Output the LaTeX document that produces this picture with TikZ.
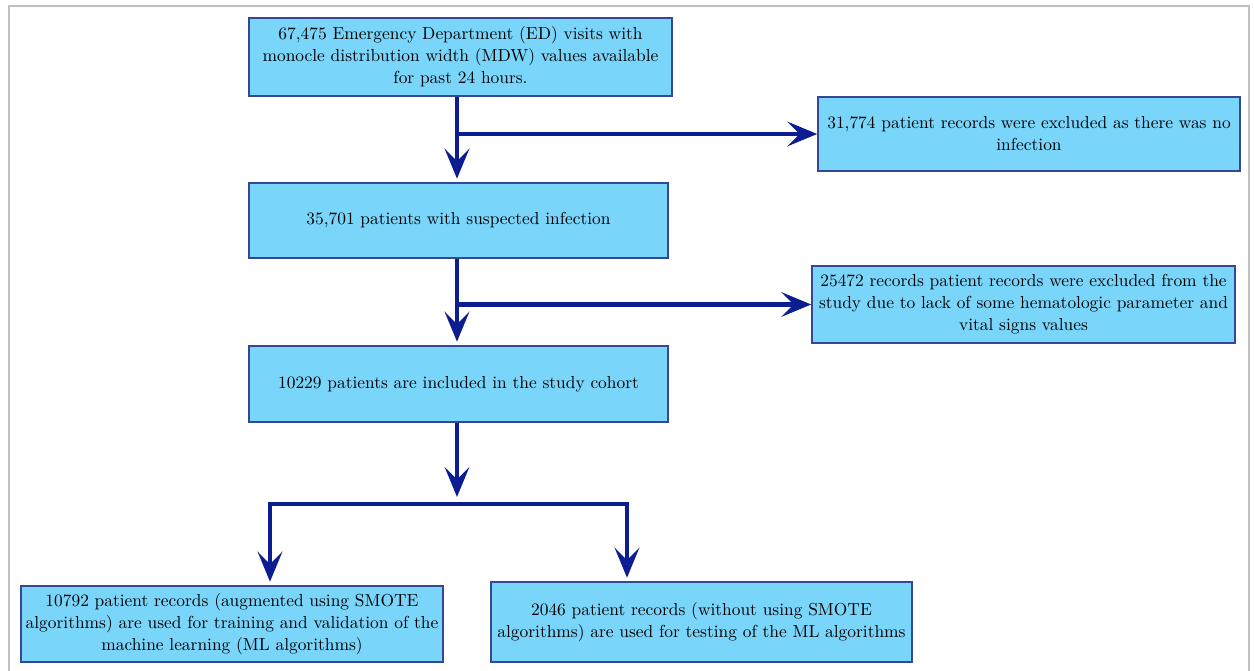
\documentclass[tikz,border=0pt]{standalone}
\usepackage{tikz}
\usetikzlibrary{arrows.meta}
\definecolor{boxfill}{RGB}{122,213,250}
\definecolor{boxline}{RGB}{52,72,150}
\definecolor{flowblue}{RGB}{12,28,145}
\definecolor{framegray}{RGB}{192,192,192}
\tikzset{
  box/.style={draw=boxline, fill=boxfill, line width=0.9pt, align=center, inner sep=2pt,
    font=\fontsize{9.9pt}{12.5pt}\selectfont},
  flow/.style={draw=flowblue, line width=2.8pt, line join=miter},
  tip/.tip={Stealth[length=17pt, width=14pt, inset=7pt]}
}

\begin{document}
\begin{tikzpicture}[x=0.02cm, y=-0.02cm]
\useasboundingbox (0,0) rectangle (1254,671);
\draw[framegray, line width=1.1pt] (9,671) -- (9,6) -- (1249,6) -- (1249,671);

\node[box, minimum width=423*0.02cm, minimum height=78*0.02cm] (visits) at (460.5,57)
  {67,475 Emergency Department (ED) visits with\\monocle distribution width (MDW) values available\\for past 24 hours.};
\node[box, minimum width=422*0.02cm, minimum height=74*0.02cm] (noinf) at (1029,134)
  {31,774 patient records were excluded as there was no\\infection};
\node[box, minimum width=419*0.02cm, minimum height=75*0.02cm] (suspect) at (458.5,220.5)
  {35,701 patients with suspected infection};
\node[box, minimum width=423*0.02cm, minimum height=77*0.02cm] (lack) at (1023.5,304.5)
  {25472 records patient records were excluded from the\\study due to lack of some hematologic parameter and\\vital signs values};
\node[box, minimum width=419*0.02cm, minimum height=76*0.02cm] (cohort) at (458.5,384)
  {10229 patients are included in the study cohort};
\node[box, minimum width=422*0.02cm, minimum height=76*0.02cm] (train) at (232,624)
  {10792 patient records (augmented using SMOTE\\algorithms) are used for training and validation of the\\machine learning (ML algorithms)};
\node[box, minimum width=421*0.02cm, minimum height=80*0.02cm] (test) at (701.5,622)
  {2046 patient records (without using SMOTE\\algorithms) are used for testing of the ML algorithms};

\coordinate (j1) at (457,134);
\coordinate (j2) at (457,304.5);
\coordinate (split) at (457,504);
\coordinate (bl) at (270,504);
\coordinate (br) at (627,504);

\draw[flow, -tip] (visits.south -| j1) -- ([yshift=2pt]suspect.north -| j1);
\draw[flow, -tip] (j1) -- (noinf.west);
\draw[flow, -tip] (suspect.south -| j2) -- ([yshift=2pt]cohort.north -| j2);
\draw[flow, -tip] (j2) -- (lack.west);
\draw[flow, -tip] (cohort.south -| split) -- ([yshift=4pt]split);
\draw[flow, tip-tip] ([yshift=2pt]train.north -| bl) |- (split) -| ([yshift=2pt]test.north -| br);
\end{tikzpicture}
\end{document}
